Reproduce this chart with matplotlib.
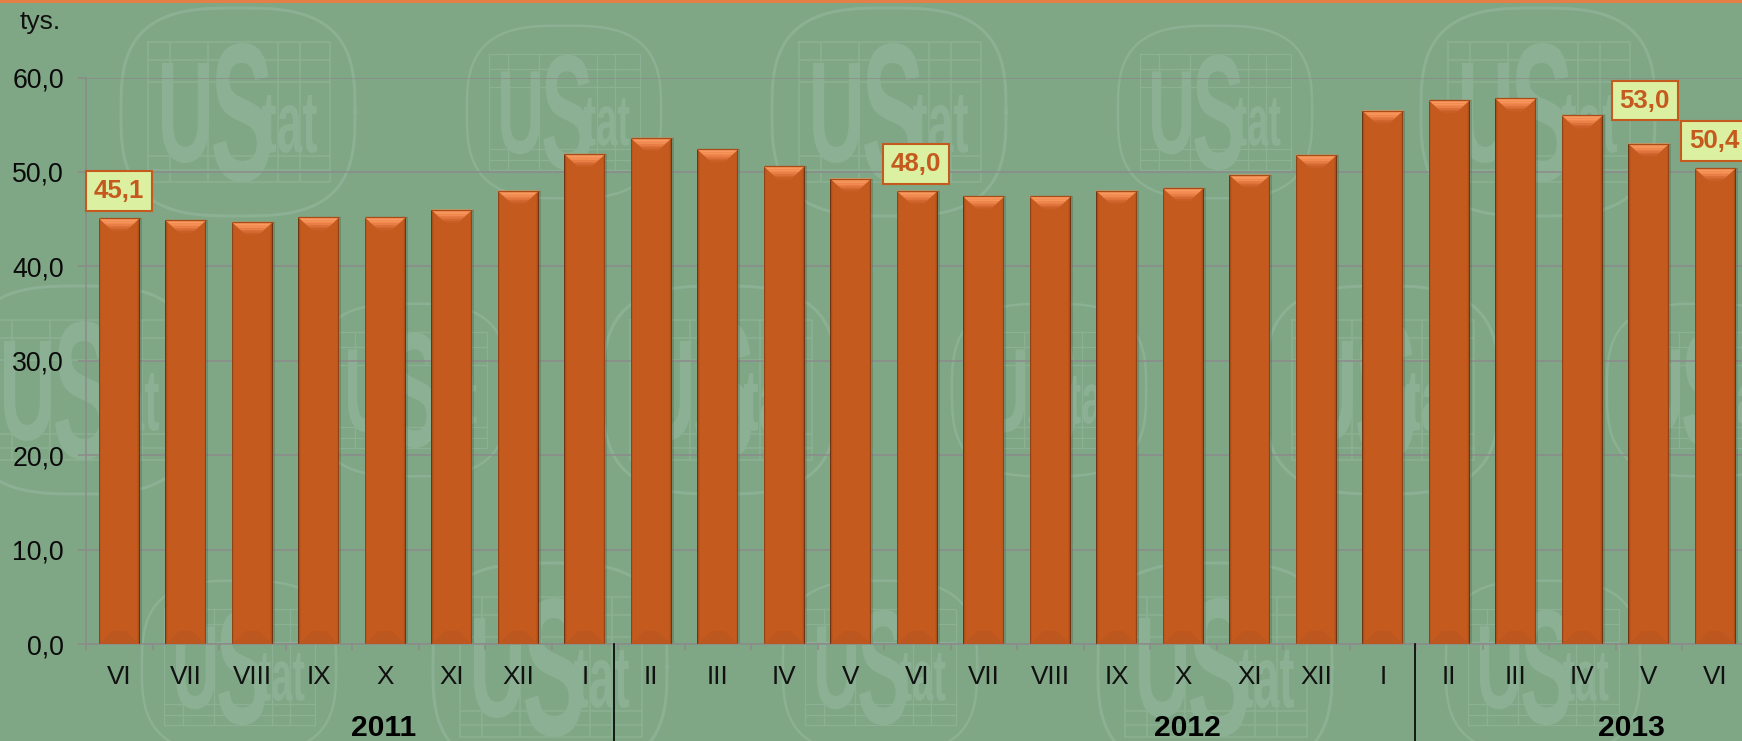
import numpy as np
import matplotlib
matplotlib.use("Agg")
import matplotlib.pyplot as plt
from matplotlib.font_manager import FontProperties
from matplotlib.patches import PathPatch, Polygon, Rectangle
from matplotlib.textpath import TextPath
from matplotlib.transforms import Affine2D

months = ["VI", "VII", "VIII", "IX", "X", "XI", "XII", "I", "II", "III", "IV", "V", "VI",
          "VII", "VIII", "IX", "X", "XI", "XII", "I", "II", "III", "IV", "V", "VI"]
values = [45.1, 44.9, 44.7, 45.2, 45.2, 46.0, 48.0, 51.9, 53.6, 52.4, 50.6, 49.3, 48.0,
          47.4, 47.4, 48.0, 48.3, 49.7, 51.8, 56.5, 57.6, 57.8, 56.0, 53.0, 50.4]
labelled = [0, 12, 23, 24]
label_lift_px = [27, 27, 43, 27]
label_shift_px = [0, -1, -4, -1]
years = ["2011", "2012", "2013"]
year_pos = [3.97, 16.07, 22.74]
separators = [7.44, 19.49]
yticks = [0, 10, 20, 30, 40, 50, 60]

W, H = 1742, 741
BG = "#7fa685"
LOGO = "#8bb093"
GRID = "#8b8b8b"
FONT = "Liberation Sans"
plt.rcParams["font.family"] = [FONT, "DejaVu Sans"]

fig = plt.figure(figsize=(W / 100, H / 100), dpi=100, facecolor=BG)

# ---- background layer in pixel coordinates (logo watermark, top stripe)
bg = fig.add_axes([0, 0, 1, 1], zorder=0)
bg.set_xlim(0, W)
bg.set_ylim(H, 0)
bg.axis("off")
bg.add_patch(Rectangle((0, 0), W, 3.2, color="#e57f48", lw=0, zorder=5))
fp = FontProperties(family=FONT, weight="bold")


def glyph(ax, s, x0, y0, x1, y1, color):
    p = TextPath((0, 0), s, size=100, prop=fp)
    b = p.get_extents()
    t = (Affine2D().translate(-b.x0, -b.y0)
         .scale((x1 - x0) / b.width, -(y1 - y0) / b.height)
         .translate(x0, y1))
    ax.add_patch(PathPatch(t.transform_path(p), fc=color, ec="none", lw=0, zorder=2))


def logo(ax, cx, cy, s):
    col = LOGO
    t = np.linspace(0, 2 * np.pi, 200)
    n = 3.0
    a, b = 117 * s, 104 * s
    x = cx + a * np.sign(np.cos(t)) * np.abs(np.cos(t)) ** (2 / n)
    y = cy + b * np.sign(np.sin(t)) * np.abs(np.sin(t)) ** (2 / n)
    ax.plot(x, y, color=col, lw=2.2 * s, zorder=1)
    gx0, gx1, gy0, gy1 = cx - 90 * s, cx + 92 * s, cy - 70 * s, cy + 70 * s
    lw = 1.1 * s
    ax.plot([gx0, gx1, gx1, gx0, gx0], [gy0, gy0, gy1, gy1, gy0], color=col, lw=lw, zorder=1)
    for dy in (-52, -30, 44, 58):
        ax.plot([gx0, gx1], [cy + dy * s] * 2, color=col, lw=lw, zorder=1)
    for dx in (-68, -30, 40, 62):
        ax.plot([cx + dx * s] * 2, [gy0, gy1], color=col, lw=lw, zorder=1)
    glyph(ax, "U", cx - 76 * s, cy - 49 * s, cx - 29 * s, cy + 51 * s, col)
    glyph(ax, "S", cx - 25 * s, cy - 69 * s, cx + 32 * s, cy + 70 * s, col)
    glyph(ax, "tat", cx + 24 * s, cy - 17 * s, cx + 79 * s, cy + 41 * s, col)


BIG, SMALL = 1.0, 0.83
for cx, cy, s in [(238, 112, BIG), (564, 112, SMALL), (889, 112, BIG), (1215, 112, SMALL), (1538, 112, BIG),
                  (80, 390, BIG), (411, 390, SMALL), (720, 390, BIG), (1049, 390, SMALL), (1382, 390, BIG), (1704, 390, SMALL),
                  (239, 667, SMALL), (550, 667, BIG), (880, 667, SMALL), (1215, 667, BIG), (1543, 667, SMALL)]:
    logo(bg, cx, cy, s)

# ---- chart
x0_px, y0_px, y60_px = 86, 644, 77.5
step_px = 66.5
ax = fig.add_axes([x0_px / W, (H - y0_px) / H, (W - x0_px) / W, (y0_px - y60_px) / H], zorder=1)
ax.patch.set_alpha(0)
for k in ("top", "right"):
    ax.spines[k].set_visible(False)
for k in ("left", "bottom"):
    ax.spines[k].set_color(GRID)
    ax.spines[k].set_linewidth(1.1)
ax.set_axisbelow(True)
ax.grid(axis="y", color=GRID, lw=1.1)
ax.set_yticks(yticks)
ax.set_yticklabels([f"{v:.1f}".replace(".", ",") for v in yticks], fontsize=19.2, color="#0a0a0a")
ax.tick_params(axis="y", length=5.8, width=1.1, color=GRID, pad=10)
x = np.arange(len(values))
ax.set_xticks(x)
ax.set_xticklabels(months, fontsize=18.8, color="#111111")
ax.tick_params(axis="x", length=0, pad=15)
ax.set_xticks(np.arange(len(values) + 1) - 0.5, minor=True)
ax.tick_params(axis="x", which="minor", length=4.6, width=1.1, color=GRID)

v = np.array(values)
px_x, px_y = 1 / step_px, 60 / (y0_px - y60_px)
# soft shadow then side shading from the outer to the inner edge
ax.bar(x + 1 * px_x, v, width=0.645, color="#3d4a34", alpha=0.25, lw=0, zorder=2)
for w, c in [(0.62, "#6f3512"), (0.605, "#8f4316"), (0.585, "#ab4e19"), (0.565, "#bc561c"), (0.545, "#c55a1e")]:
    ax.bar(x, v, width=w, color=c, lw=0, zorder=3)

cap_h, cap_in = 13 * px_y, 14 * px_x
half = 0.305
grad = ["#fb9c62", "#fa9a60", "#f8955b", "#f28c52", "#ea8048", "#de743c", "#d26830", "#c95f25"]
for xi, vi in zip(x, v):
    for j, c in enumerate(grad):
        f0, f1 = j / len(grad), (j + 1) / len(grad)
        ax.add_patch(Polygon([(xi - half + cap_in * f0, vi - cap_h * f0), (xi + half - cap_in * f0, vi - cap_h * f0),
                              (xi + half - cap_in * f1, vi - cap_h * f1), (xi - half + cap_in * f1, vi - cap_h * f1)],
                             fc=c, ec=c, lw=0.2, zorder=4))
    ax.plot([xi - 0.31, xi + 0.31], [vi, vi], color="#a94c18", lw=0.9, zorder=5, solid_capstyle="butt")
    ax.add_patch(Polygon([(xi - half, 0), (xi + half, 0), (xi + half - cap_in, cap_h), (xi - half + cap_in, cap_h)],
                         fc="#bc5720", ec="none", lw=0, zorder=4))

for i, lift, shift in zip(labelled, label_lift_px, label_shift_px):
    ax.annotate(f"{values[i]:.1f}".replace(".", ","), (x[i], v[i]),
                xytext=(shift * 0.72, lift * 0.72), textcoords="offset points",
                ha="center", va="center", fontsize=18.6, fontweight="bold", color="#c55a1e", zorder=8,
                bbox=dict(boxstyle="square,pad=0.3", fc="#dcf0a2", ec="#c55a1e", lw=1.5),
                annotation_clip=False)

tr = ax.get_xaxis_transform()
for s in separators:
    ax.plot([s, s], [0, -97 / (y0_px - y60_px)], transform=tr, color="black", lw=1.2, clip_on=False, zorder=6)
for s, p in zip(years, year_pos):
    ax.text(p, -84 / (y0_px - y60_px), s, transform=tr, ha="center", va="center",
            fontsize=21.6, fontweight="bold", color="black")
fig.text(40 / W, 1 - 22 / H, "tys.", ha="center", va="center", fontsize=19, color="#111111")

# limits last: setting ticks widens the view, and the last bar runs to the figure edge
ax.set_xlim(-0.5, (W - x0_px) / step_px - 0.5)
ax.set_ylim(0, 60)

fig.savefig("out.png", dpi=100, facecolor=fig.get_facecolor())
